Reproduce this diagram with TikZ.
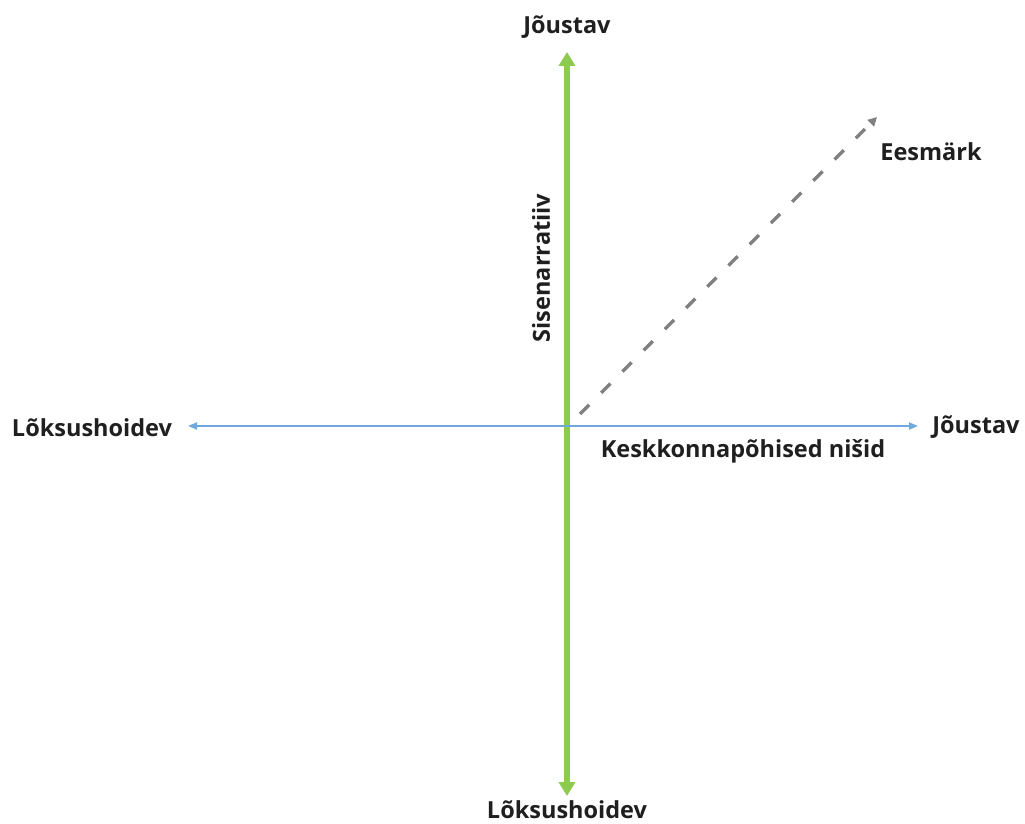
\documentclass[tikz,border=0pt]{standalone}
\usepackage{fontspec}
\setmainfont{Open Sans}
\usetikzlibrary{arrows.meta}
\definecolor{axgreen}{HTML}{8CCB4E}
\definecolor{axblue}{HTML}{6FA8DC}
\definecolor{axgray}{HTML}{808080}
\tikzset{
  lbl/.style={font=\fontsize{23.5}{27}\selectfont\bfseries, text=black!88, inner sep=0pt},
  greenax/.style={draw=axgreen, line width=6pt, -{Triangle[length=14pt,width=16pt]}},
  blueax/.style={draw=axblue, line width=2pt, -{Triangle[length=9pt,width=7pt]}},
  goalax/.style={draw=axgray, line width=3.5pt, dash pattern=on 13pt off 17pt, -{Triangle[length=9pt,width=9pt]}}
}
\begin{document}
\begin{tikzpicture}[x=1pt,y=-1pt]
\useasboundingbox (0,0) rectangle (1025,824);
\coordinate (o) at (567,426);
\coordinate (vt) at (567,52);
\coordinate (vb) at (567,796);
\coordinate (hl) at (188,426);
\coordinate (hr) at (918,426);
\coordinate (gs) at (580,414);
\coordinate (ge) at (877,117);
\draw[greenax] (o) -- (vt);
\draw[greenax] (o) -- (vb);
\draw[blueax] (o) -- (hl);
\draw[blueax] (o) -- (hr);
\draw[goalax] (gs) -- (ge);
\node[lbl] (top) at (567,27) {Jõustav};
\node[lbl] (bot) at (567,810) {Lõksushoidev};
\node[lbl] (left) at (92,428) {Lõksushoidev};
\node[lbl] (right) at (976,427) {Jõustav};
\node[lbl] (goal) at (931,152) {Eesmärk};
\node[lbl] (env) at (743,451) {Keskkonnapõhised nišid};
\node[lbl, rotate=90] (inner) at (541,268) {Sisenarratiiv};
\end{tikzpicture}
\end{document}
